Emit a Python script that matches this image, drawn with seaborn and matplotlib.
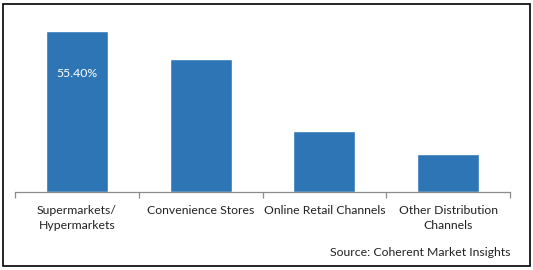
import matplotlib
matplotlib.use("Agg")
import matplotlib.pyplot as plt
import seaborn as sns
import pandas as pd
from matplotlib.patches import Rectangle

categories = ["Supermarkets/\nHypermarkets", "Convenience Stores", "Online Retail Channels", "Other Distribution\nChannels"]
values = [55.4, 45.8, 21.0, 13.1]
label_text = "55.40%"

sns.set_style("white")
plt.rcParams['font.family'] = ['Lato', 'DejaVu Sans']

df = pd.DataFrame({"cat": categories, "val": values})

fig = plt.figure(figsize=(5.33, 2.70), dpi=100)
ax = fig.add_axes([15/533, (270-192)/270, (510-15)/533, 174.4/270])
sns.barplot(data=df, x="cat", y="val", color="#2E75B6", saturation=1, width=0.5, ax=ax)
ax.set_xlim(-0.5, 3.5)
ax.set_ylim(0, 60)
ax.set_xlabel("")
ax.set_ylabel("")
ax.set_yticks([])
for s in ["top", "right", "left"]:
    ax.spines[s].set_visible(False)
ax.spines["bottom"].set_color("#8C8C8C")
ax.spines["bottom"].set_linewidth(0.9)
ax.tick_params(axis="x", which="major", length=0, pad=9, labelsize=8.8, colors="#222222")
ax.set_xticks([-0.5, 0.5, 1.5, 2.5, 3.5], minor=True)
ax.tick_params(axis="x", which="minor", length=4, direction="out", color="#8C8C8C", width=0.9, bottom=True)
for lab in ax.get_xticklabels():
    lab.set_linespacing(1.45)

ax.text(0, 55.4 - 14.6, label_text, ha="center", va="center", color="white", fontsize=8.8)

fig.text(510/533, 1 - 253/270, "Source: Coherent Market Insights", ha="right", va="center", fontsize=8.8, color="#222222")

fig.patches.append(Rectangle((3/533, 1 - 266/270), 527/533, 262/270, transform=fig.transFigure,
                             fill=False, edgecolor="black", linewidth=1.2))

fig.savefig("out.png", dpi=100, facecolor="white")
